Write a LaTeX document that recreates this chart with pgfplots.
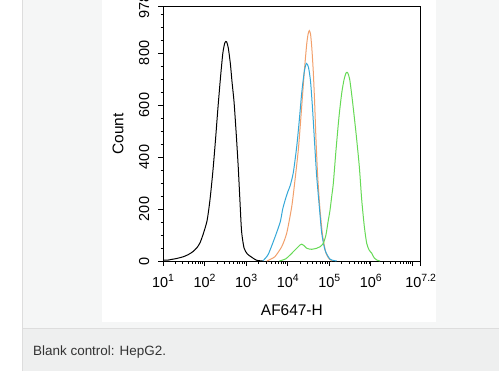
\documentclass[border=0pt]{standalone}
\usepackage{pgfplots}
\pgfplotsset{compat=1.18}
\usepackage{fontspec}
\setmainfont{Liberation Sans}
\definecolor{cardgray}{HTML}{F5F6F6}
\definecolor{capgray}{HTML}{EEEFEF}
\definecolor{bordergray}{HTML}{DDDDDD}
\definecolor{captext}{HTML}{333333}
\definecolor{fcorange}{HTML}{F2A06C}
\definecolor{fcblue}{HTML}{35A8D8}
\definecolor{fcgreen}{HTML}{66DA55}
\newcommand{\tp}[1]{10\raisebox{5.5bp}{\fontsize{10.5}{11}\selectfont #1}}
\begin{document}
\begin{tikzpicture}[x=1bp,y=1bp]
\useasboundingbox (0,0) rectangle (499,371);
\fill[white] (0,0) rectangle (499,371);
\fill[cardgray] (22,42.7) rectangle (499,371);
\fill[capgray] (22,0) rectangle (499,42.7);
\draw[bordergray,line width=0.8bp] (22,42.7) -- (499,42.7);
\draw[bordergray,line width=0.8bp] (22,0) -- (22,371);
\fill[white] (102,49.3) rectangle (436,371);
\node[anchor=base west,inner sep=0pt,text=captext,font=\fontsize{13.5}{15}\selectfont] at (33,16) {Blank control: HepG2.};
\begin{axis}[
  at={(163bp,110bp)}, anchor=south west,
  scale only axis, width=257.7bp, height=254.3bp,
  xmin=1, xmax=7.2, ymin=0, ymax=978,
  axis line style={line width=0.8bp},
  tick style={black, line width=0.7bp},
  tick align=outside,
  major tick length=5bp, minor tick length=2.5bp,
  xtick={1,2,3,4,5,6,7,7.2},
  xticklabels={\tp{1},\tp{2},\tp{3},\tp{4},\tp{5},\tp{6},,\tp{7.2}},
  minor xtick={1.301,1.477,1.602,1.699,1.778,1.845,1.903,1.954,
               2.301,2.477,2.602,2.699,2.778,2.845,2.903,2.954,
               3.301,3.477,3.602,3.699,3.778,3.845,3.903,3.954,
               4.301,4.477,4.602,4.699,4.778,4.845,4.903,4.954,
               5.301,5.477,5.602,5.699,5.778,5.845,5.903,5.954,
               6.301,6.477,6.602,6.699,6.778,6.845,6.903,6.954},
  ytick={0,200,400,600,800,978},
  yticklabels={0,200,400,600,800,978},
  minor ytick={50,100,150,250,300,350,450,500,550,650,700,750,850,900,950},
  xtick pos=bottom, ytick pos=left,
  ticklabel style={font=\fontsize{14.5}{16}\selectfont},
  xticklabel style={anchor=base},
  xticklabel shift=21bp,
  yticklabel style={rotate=90, anchor=base},
  yticklabel shift=9bp,
  xlabel={AF647-H},
  ylabel={Count},
  label style={font=\fontsize{15.5}{17}\selectfont},
  xlabel style={at={(axis description cs:0.5,-0.2135)}, anchor=base},
  ylabel style={at={(axis description cs:-0.154,0.5)}, anchor=base},
  every axis plot/.append style={line width=1bp, smooth, tension=0.4},
]
\addplot[black] coordinates {
(1.0,4) (1.1,3) (1.2,6) (1.31,9) (1.48,16) (1.6,24) (1.72,36) (1.82,52)
(1.89,70) (1.96,100) (2.06,155) (2.13,235) (2.20,345) (2.26,460) (2.32,585)
(2.38,700) (2.44,800) (2.49,840) (2.53,843) (2.57,820) (2.62,760) (2.66,690)
(2.71,610) (2.76,493) (2.81,362) (2.85,235) (2.89,115) (2.95,50) (3.03,27) (3.13,15)
(3.25,3) (3.40,0)};
\addplot[fcorange] coordinates {
(3.50,0) (3.60,8) (3.695,17) (3.856,55) (3.976,107) (4.097,209) (4.176,312)
(4.256,428) (4.313,543) (4.361,646) (4.410,749) (4.458,835) (4.49,872)
(4.52,886) (4.55,872) (4.58,820) (4.615,730) (4.648,610) (4.681,466) (4.722,325)
(4.778,196) (4.843,94) (4.922,30) (5.0,8) (5.07,0)};
\addplot[fcblue] coordinates {
(3.40,0) (3.53,25) (3.69,90) (3.82,150) (3.88,200) (3.94,235) (4.00,265)
(4.06,290) (4.135,340) (4.217,440) (4.280,543) (4.337,646) (4.400,729)
(4.45,760) (4.50,745) (4.55,690) (4.60,580) (4.657,428) (4.698,325)
(4.761,209) (4.819,107) (4.898,42) (5.018,7) (5.18,0)};
\addplot[fcgreen] coordinates {
(3.80,0) (3.95,8) (4.056,23) (4.217,49) (4.30,62) (4.337,65) (4.40,58)
(4.458,49) (4.52,46) (4.578,45) (4.698,49) (4.78,55) (4.857,68) (4.92,100)
(4.97,150) (5.018,195) (5.06,250) (5.098,299) (5.163,428) (5.235,556)
(5.300,646) (5.355,697) (5.40,722) (5.44,725) (5.49,700) (5.555,620)
(5.644,492) (5.723,363) (5.781,235) (5.844,132) (5.901,68) (5.96,42)
(6.022,30) (6.08,12) (6.142,4) (6.22,0)};
\end{axis}
\end{tikzpicture}
\end{document}
